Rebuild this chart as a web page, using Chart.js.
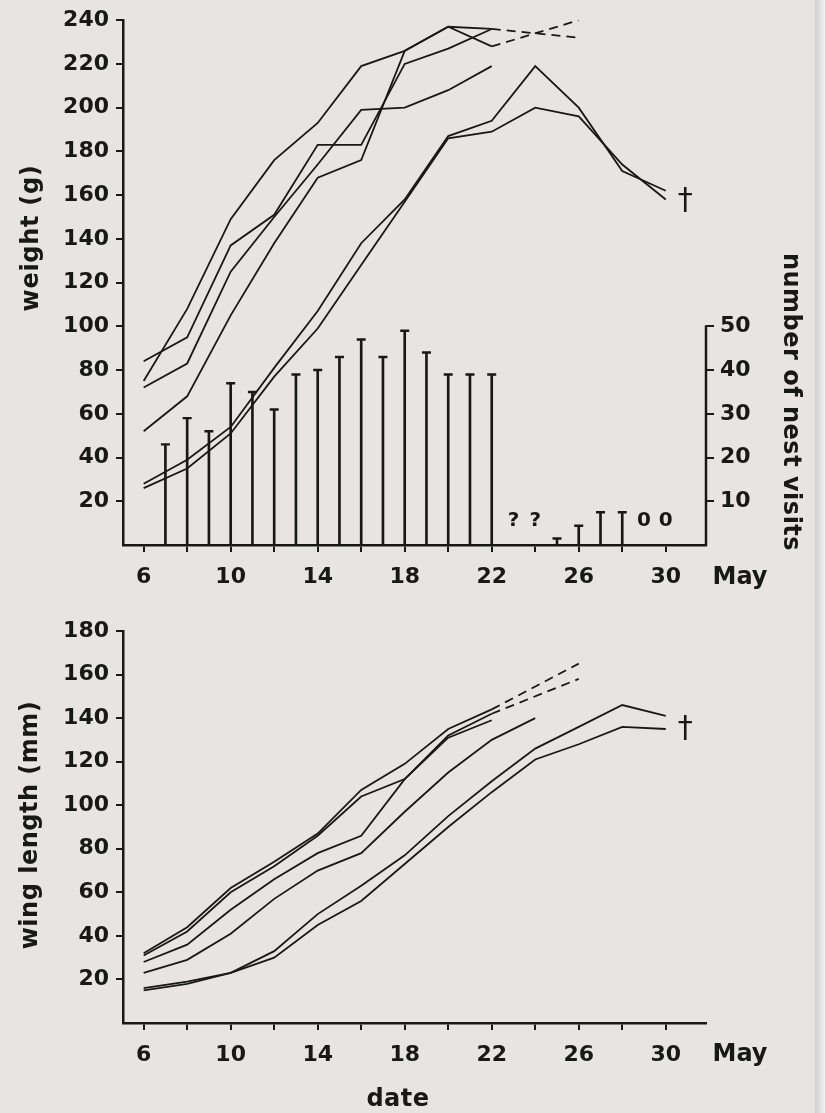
<!DOCTYPE html>
<html><head><meta charset="utf-8">
<script src="https://cdn.jsdelivr.net/npm/chart.js@4.4.1/dist/chart.umd.min.js"></script>
<style>
html,body{margin:0;padding:0;background:#e8e4e3;}
#wrap{position:relative;width:825px;height:1113px;overflow:hidden;background:#e8e4e3;}
#c1{position:absolute;left:0;top:0;width:825px;height:600px;}
#c2{position:absolute;left:0;top:600px;width:825px;height:513px;}
#edge{position:absolute;left:815px;top:0;width:10px;height:1113px;background:linear-gradient(to right,#cfcdcd,#f2f2f2);}
</style></head>
<body><div id="wrap"><canvas id="c1" width="825" height="600"></canvas><canvas id="c2" width="825" height="513"></canvas><div id="edge"></div></div>
<script>
// ---------- data ----------
const days = [6, 8, 10, 12, 14, 16, 18, 20, 22, 24, 26, 28, 30];
const dashDays = [22, 26];
const xTicks = [6, 8, 10, 12, 14, 16, 18, 20, 22, 24, 26, 28, 30];
const xLabels = [6, 10, 14, 18, 22, 26, 30];
const monthLabel = 'May';

// weight (g)
const weightA = [84, 95, 137, 151, 183, 183, 220, 227, 236];
const weightB = [75, 108, 149, 176, 193, 219, 226, 237, 228];
const weightC = [72, 83, 125, 150, 174, 199, 200, 208, 219];
const weightD = [52, 68, 105, 138, 168, 176, 226, 237, 236];
const weightE = [28, 39, 54, 81, 107, 138, 158, 187, 194, 219, 200, 171, 162];
const weightF = [26, 35, 51, 77, 99, 128, 157, 186, 189, 200, 196, 174, 158];
const weightDashA = [236, 232];
const weightDashB = [228, 240];
const weightTicks = [20, 40, 60, 80, 100, 120, 140, 160, 180, 200, 220, 240];

// nest visits
const visitDays = [7, 8, 9, 10, 11, 12, 13, 14, 15, 16, 17, 18, 19, 20, 21, 22, 25, 26, 27, 28];
const visits = [23, 29, 26, 37, 35, 31, 39, 40, 43, 47, 43, 49, 44, 39, 39, 39, 1.5, 4.4, 7.5, 7.5];
const visitTicks = [10, 20, 30, 40, 50];
const noteDays = [23, 24, 29, 30];
const noteTexts = ['?', '?', '0', '0'];
const noteLevel = 5.5;

// wing length (mm)
const wing1 = [32, 44, 62, 74, 87, 107, 119, 135, 144];
const wing2 = [31, 42, 60, 72, 86, 104, 112, 132, 142];
const wing3 = [28, 36, 52, 66, 78, 86, 112, 131, 139];
const wing4 = [23, 29, 41, 57, 70, 78, 97, 115, 130, 140];
const wing5 = [16, 19, 23, 33, 50, 63, 77, 95, 111, 126, 136, 146, 141];
const wing6 = [15, 18, 23, 30, 45, 56, 73, 90, 106, 121, 128, 136, 135];
const wingDash1 = [144, 165];
const wingDash2 = [142, 158];
const wingTicks = [20, 40, 60, 80, 100, 120, 140, 160, 180];

const deathMark = '†';
const deathDay = 30.9;
const deathWeight = 157;
const deathWing = 135;

// ---------- helpers ----------
const INK = '#181818';
const FONT = 'DejaVu Sans';
function pts(xs, ys) { const o = []; xs.forEach((x, i) => { if (ys[i] != null) o.push({x: x, y: ys[i]}); }); return o; }
function lineDs(data, dashed, axis) {
  return {type: 'line', data: data, borderColor: INK, borderWidth: 1.8, pointRadius: 0, tension: 0,
          fill: false, borderDash: dashed ? [9, 6] : [], yAxisID: axis, order: 1};
}
function xScale() {
  return {
    type: 'linear', min: 5.05, max: 31.85, offset: false,
    afterBuildTicks: s => { s.ticks = xTicks.map(v => ({value: v})); },
    ticks: {callback: v => xLabels.includes(v) ? String(v) : '', autoSkip: false, maxRotation: 0,
            font: {family: FONT, size: 22, weight: 'bold'}, color: INK, padding: 12},
    grid: {offset: false, drawOnChartArea: false, drawTicks: true, tickLength: 7, color: INK, lineWidth: 2},
    border: {display: true, color: INK, width: 2.5}
  };
}
function yScale(max, ticks) {
  return {
    type: 'linear', position: 'left', min: 0, max: max,
    afterBuildTicks: s => { s.ticks = ticks.map(v => ({value: v})); },
    ticks: {font: {family: FONT, size: 22, weight: 'bold'}, color: INK, padding: 7},
    grid: {drawOnChartArea: false, drawTicks: true, tickLength: 7, color: INK, lineWidth: 2},
    border: {display: true, color: INK, width: 2.5},
    afterFit: s => { s.width = 123; }
  };
}
function text(ctx, str, x, y, font, rot, spacing) {
  ctx.save();
  ctx.translate(x, y);
  if (rot) ctx.rotate(rot);
  ctx.font = font;
  ctx.fillStyle = INK;
  ctx.textAlign = 'center';
  ctx.textBaseline = 'middle';
  if (spacing) ctx.letterSpacing = spacing;
  ctx.fillText(str, 0, 0);
  ctx.restore();
}

// ---------- top chart: weight + nest visits ----------
const topDecor = {
  id: 'topDecor',
  afterDraw(chart) {
    const ctx = chart.ctx, x = chart.scales.x, y = chart.scales.y, yv = chart.scales.yv, ca = chart.chartArea;
    ctx.save();
    ctx.strokeStyle = INK; ctx.lineWidth = 2.5;
    ctx.beginPath(); ctx.moveTo(ca.right, yv.getPixelForValue(0) + 1); ctx.lineTo(ca.right, yv.getPixelForValue(50) - 1); ctx.stroke();
    ctx.restore();
    text(ctx, monthLabel, ca.right + 34, 578, 'bold 24px ' + FONT);
    noteDays.forEach((d, i) => text(ctx, noteTexts[i], x.getPixelForValue(d), yv.getPixelForValue(noteLevel), 'bold 20px ' + FONT));
    text(ctx, deathMark, x.getPixelForValue(deathDay), y.getPixelForValue(deathWeight), '30px ' + FONT);
    text(ctx, 'weight (g)', 32, 238, 'bold 24px ' + FONT, -Math.PI / 2, '0.7px');
    text(ctx, 'number of nest visits', 790, 402, 'bold 24px ' + FONT, Math.PI / 2, '0.5px');
  }
};

new Chart(document.getElementById('c1'), {
  type: 'line',
  data: {datasets: [
    lineDs(pts(days, weightA), false, 'y'),
    lineDs(pts(days, weightB), false, 'y'),
    lineDs(pts(days, weightC), false, 'y'),
    lineDs(pts(days, weightD), false, 'y'),
    lineDs(pts(days, weightE), false, 'y'),
    lineDs(pts(days, weightF), false, 'y'),
    lineDs(pts(dashDays, weightDashA), true, 'y'),
    lineDs(pts(dashDays, weightDashB), true, 'y'),
    {type: 'bar', data: pts(visitDays, visits), yAxisID: 'yv', backgroundColor: INK, borderWidth: 0, barThickness: 2, order: 2},
    {type: 'line', data: pts(visitDays, visits), yAxisID: 'yv', showLine: false, pointStyle: 'line', pointRadius: 4.5,
     pointBorderWidth: 2.4, pointBorderColor: INK, pointBackgroundColor: INK, order: 2}
  ]},
  options: {
    responsive: false, animation: false, devicePixelRatio: 1,
    layout: {padding: {top: 20, left: 0, right: 0, bottom: 0}},
    plugins: {legend: {display: false}, tooltip: {enabled: false}},
    scales: {
      x: Object.assign(xScale(), {afterFit: s => { s.height = 55; }}),
      y: yScale(240, weightTicks),
      yv: {
        type: 'linear', position: 'right', min: 0, max: 120,
        afterBuildTicks: s => { s.ticks = visitTicks.map(v => ({value: v})); },
        ticks: {font: {family: FONT, size: 22, weight: 'bold'}, color: INK, padding: 6},
        grid: {drawOnChartArea: false, drawTicks: true, tickLength: 8, color: INK, lineWidth: 2},
        border: {display: false},
        afterFit: s => { s.width = 119; }
      }
    }
  },
  plugins: [topDecor]
});

// ---------- bottom chart: wing length ----------
const botDecor = {
  id: 'botDecor',
  afterDraw(chart) {
    const ctx = chart.ctx, x = chart.scales.x, y = chart.scales.y, ca = chart.chartArea;
    text(ctx, monthLabel, ca.right + 34, 455, 'bold 24px ' + FONT);
    text(ctx, deathMark, x.getPixelForValue(deathDay), y.getPixelForValue(deathWing), '30px ' + FONT);
    text(ctx, 'wing length (mm)', 31, 225, 'bold 24px ' + FONT, -Math.PI / 2, '0.5px');
    text(ctx, 'date', 398, 500, 'bold 24px ' + FONT, 0, '0.5px');
  }
};

new Chart(document.getElementById('c2'), {
  type: 'line',
  data: {datasets: [
    lineDs(pts(days, wing1), false, 'y'),
    lineDs(pts(days, wing2), false, 'y'),
    lineDs(pts(days, wing3), false, 'y'),
    lineDs(pts(days, wing4), false, 'y'),
    lineDs(pts(days, wing5), false, 'y'),
    lineDs(pts(days, wing6), false, 'y'),
    lineDs(pts(dashDays, wingDash1), true, 'y'),
    lineDs(pts(dashDays, wingDash2), true, 'y')
  ]},
  options: {
    responsive: false, animation: false, devicePixelRatio: 1,
    layout: {padding: {top: 31, left: 0, right: 119, bottom: 0}},
    plugins: {legend: {display: false}, tooltip: {enabled: false}},
    scales: {
      x: Object.assign(xScale(), {afterFit: s => { s.height = 90; }}),
      y: yScale(180, wingTicks)
    }
  },
  plugins: [botDecor]
});
</script>
</body></html>
